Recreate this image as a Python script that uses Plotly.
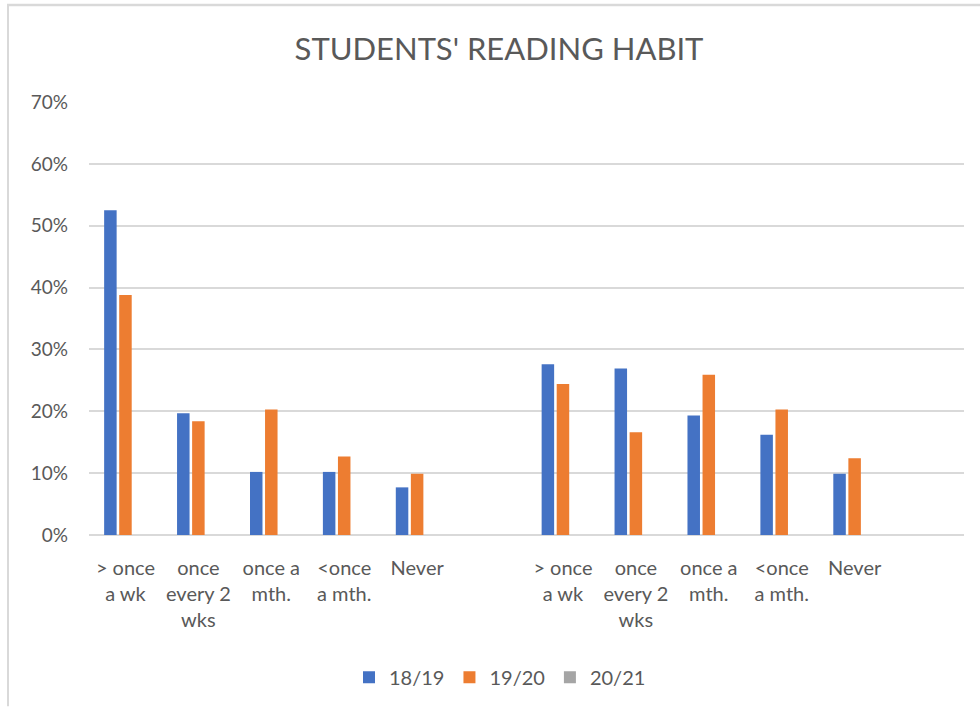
"""Excel-style grouped bar chart: students' reading habit."""

import plotly.graph_objects as go

categories = [
    "> once<br>a wk", "once<br>every 2<br>wks", "once a<br>mth.", "<once<br>a mth.", "Never",
    "",
    "> once<br>a wk", "once<br>every 2<br>wks", "once a<br>mth.", "<once<br>a mth.", "Never",
    "",
]
series_names = ["18/19", "19/20", "20/21"]
values_1819 = [0.525, 0.197, 0.102, 0.102, 0.077, None, 0.276, 0.269, 0.193, 0.162, 0.099, None]
values_1920 = [0.388, 0.184, 0.203, 0.127, 0.099, None, 0.244, 0.166, 0.259, 0.203, 0.124, None]
values_2021 = [0, 0, 0, 0, 0, None, 0, 0, 0, 0, 0, None]
y_ticks = [0, 0.1, 0.2, 0.3, 0.4, 0.5, 0.6, 0.7]

COLORS = ["#4472C4", "#ED7D31", "#A5A5A5"]
FONT = "Lato, 'Open Sans', sans-serif"
TEXT = "#595959"
GRID = "#D9D9D9"

x = list(range(len(categories)))

fig = go.Figure()
for name, vals, col in zip(series_names, [values_1819, values_1920, values_2021], COLORS):
    fig.add_trace(
        go.Bar(
            x=x,
            y=vals,
            name=name,
            marker=dict(color=col, line=dict(width=0)),
            hovertemplate="%{y:.1%}<extra>" + name + "</extra>",
        )
    )

# chart-area border (top and left edges visible in the reference)
px_l, px_r, px_t, px_b = 89, 964, 102, 537
W = px_r - px_l
H = px_b - px_t
def fx(p):
    return (p - px_l) / W
def fy(p):
    return (px_b - p) / H

shapes = [
    dict(type="line", xref="paper", yref="paper", x0=fx(7), x1=fx(980), y0=fy(4.5), y1=fy(4.5),
         line=dict(color=GRID, width=2.5)),
    dict(type="line", xref="paper", yref="paper", x0=fx(8), x1=fx(8), y0=fy(4), y1=fy(709),
         line=dict(color=GRID, width=2)),
]

fig.update_layout(
    width=980,
    height=709,
    paper_bgcolor="white",
    plot_bgcolor="white",
    font=dict(family=FONT, color=TEXT, size=19),
    title=dict(
        text="STUDENTS' READING HABIT",
        x=499 / 980,
        xanchor="center",
        xref="container",
        y=1 - 49 / 709,
        yanchor="middle",
        yref="container",
        font=dict(size=31, color=TEXT, family=FONT),
    ),
    margin=dict(l=px_l, r=980 - px_r, t=px_t, b=709 - px_b),
    barmode="group",
    bargap=0.38,
    bargroupgap=0.17,
    xaxis=dict(
        tickmode="array",
        tickvals=x,
        ticktext=categories,
        range=[-0.5, len(categories) - 0.5],
        showgrid=False,
        showline=False,
        zeroline=False,
        ticks="",
        tickangle=0,
        tickfont=dict(size=20, color=TEXT),
        ticklabelstandoff=19,
        fixedrange=True,
    ),
    yaxis=dict(
        range=[0, 0.7],
        tickvals=y_ticks,
        tickformat=".0%",
        showgrid=True,
        gridcolor=GRID,
        gridwidth=1.5,
        zeroline=True,
        zerolinecolor=GRID,
        zerolinewidth=1.5,
        showline=False,
        ticks="",
        tickfont=dict(size=19, color=TEXT),
        ticklabelstandoff=20,
        fixedrange=True,
    ),
    legend=dict(
        orientation="h",
        x=(500 - px_l) / W,
        xanchor="center",
        y=fy(680),
        yanchor="middle",
        font=dict(size=20, color=TEXT),
        itemwidth=30,
        traceorder="normal",
    ),
    shapes=shapes,
)

fig.write_html(
    "out.html",
    config={"displayModeBar": False},
    post_script="document.body.style.margin='0px';",
)
